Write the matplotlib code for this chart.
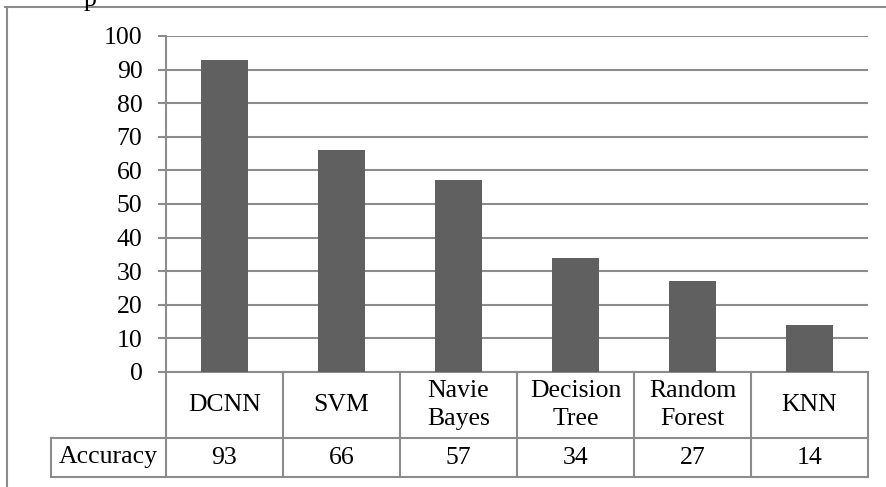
"""
Accuracy comparison of classifiers: bar chart with a data table underneath
"""
import matplotlib
matplotlib.use('Agg')
import matplotlib.pyplot as plt
from matplotlib.lines import Line2D

models = ['DCNN', 'SVM', 'Navie\nBayes', 'Decision\nTree', 'Random\nForest', 'KNN']
accuracy = [93, 66, 57, 34, 27, 14]
row_label = 'Accuracy'
yticks = list(range(0, 101, 10))

W, H = 886, 487
GRAY = '#8c8c8c'
BAR = '#606060'
FS = 18.5

plt.rcParams['font.family'] = ['Liberation Serif', 'DejaVu Serif']

fig = plt.figure(figsize=(W / 100, H / 100), dpi=100)

def px_box(x0, y0, x1, y1):
    # pixel box (top-left origin) -> figure fraction rect
    return [x0 / W, (H - y1) / H, (x1 - x0) / W, (y1 - y0) / H]

# outer frame, cut at right and bottom
fig.add_artist(Line2D([5 / W, 1], [1 - 7 / H, 1 - 7 / H], color=GRAY, lw=1.5))
fig.add_artist(Line2D([7 / W, 7 / W], [0, 1 - 7 / H], color=GRAY, lw=1.5))
# remains of a caption cut off by the top edge
fig.text(84 / W, 1 - 6 / H, 'p', fontsize=FS, va='baseline', ha='left')

# bar chart
ax = fig.add_axes(px_box(166, 36, 868, 372))
x = [i + 0.5 for i in range(len(models))]
ax.bar(x, accuracy, width=0.4, color=BAR, zorder=3)
ax.set_xlim(0, len(models))
ax.set_ylim(0, 100)
ax.set_yticks(yticks)
ax.set_xticks([])
ax.yaxis.grid(True, color=GRAY, lw=1.5, zorder=0)
for s in ['top', 'right']:
    ax.spines[s].set_visible(False)
for s in ['left', 'bottom']:
    ax.spines[s].set_color(GRAY)
    ax.spines[s].set_linewidth(1.5)
ax.tick_params(axis='y', length=6, width=1.5, color=GRAY, pad=11, labelsize=FS)

# table below the axis
tax = fig.add_axes(px_box(51, 372, 868, 477))
label_w = (166 - 51) / ((868 - 166) / len(models))
tax.set_xlim(-label_w, len(models))
tax.set_ylim(0, 1)
tax.axis('off')
mid = 39 / 105
kw = dict(color=GRAY, lw=1.5, clip_on=False)
for i in range(len(models) + 1):
    tax.plot([i, i], [0, 1], **kw)
tax.plot([-label_w, -label_w], [0, mid], **kw)
tax.plot([-label_w, len(models)], [mid, mid], **kw)
tax.plot([-label_w, len(models)], [0, 0], **kw)

for i, (m, a) in enumerate(zip(models, accuracy)):
    tax.text(i + 0.5, (1 + mid) / 2, m, ha='center', va='center',
             fontsize=FS, linespacing=1.35)
    tax.text(i + 0.5, mid / 2, str(a), ha='center', va='center', fontsize=FS)
tax.text(-label_w / 2, mid / 2, row_label, ha='center', va='center', fontsize=FS)

fig.savefig('out.png', dpi=100)
